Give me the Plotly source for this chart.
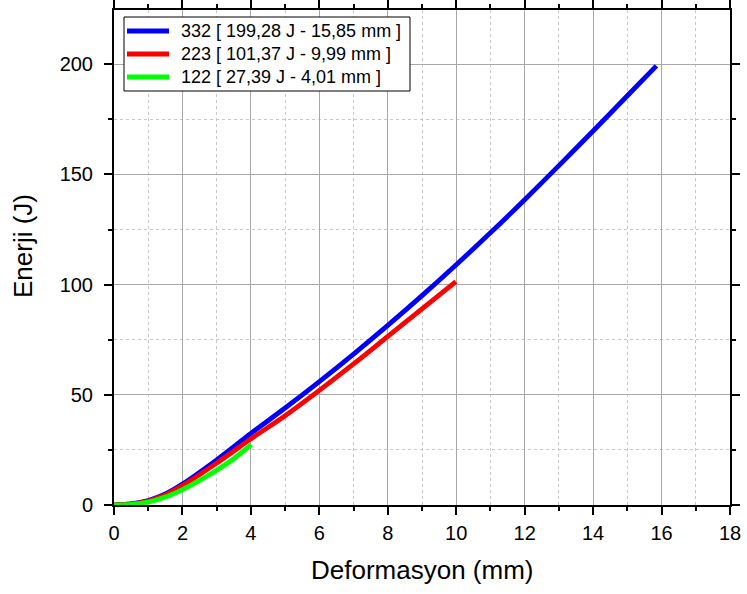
import plotly.graph_objects as go

# Energy vs. deformation curves for three specimens
x_332 = [0, 0.5, 1, 1.5, 2, 3, 4, 5, 6, 7, 8, 9, 10, 11, 12, 13, 14, 15, 15.85]
y_332 = [0, 0.5, 2, 5, 9.5, 20.5, 32.5, 44, 56, 68.5, 81.5, 95, 109, 123.5, 138.5, 154, 169.7, 185.7, 199.28]

x_223 = [0, 0.5, 1, 1.5, 2, 3, 4, 5, 6, 7, 8, 9, 9.99]
y_223 = [0, 0.5, 1.8, 4.6, 8.8, 19, 30, 40.5, 52, 64, 76.5, 89, 101.37]

x_122 = [0, 0.5, 1, 1.5, 2, 2.5, 3, 3.5, 4.01]
y_122 = [0, 0.3, 1.3, 3.6, 7, 11.2, 15.8, 21, 27.39]

names = [
    "332 [ 199,28 J - 15,85 mm ]",
    "223 [ 101,37 J - 9,99 mm ]",
    "122 [ 27,39 J - 4,01 mm ]",
]
colors = ["#0000ff", "#ff0000", "#00ff00"]

x_ticks = list(range(0, 19, 2))
y_ticks = [0, 50, 100, 150, 200]

FONT = "Liberation Sans, Arial, sans-serif"

# plot area in pixels
W, H = 747, 594
L, R, T, B = 114, 17, 10, 89
PW, PH = W - L - R, H - T - B


def px_x(p):
    return (p - L) / PW


def px_y(p):
    return (H - B - p) / PH


fig = go.Figure()
for xs, ys, name, col in zip([x_332, x_223, x_122], [y_332, y_223, y_122], names, colors):
    fig.add_trace(go.Scatter(x=xs, y=ys, mode="lines", name=name, showlegend=False,
                             line=dict(color=col, width=4.8, shape="spline", smoothing=0.8)))

axis_common = dict(
    showline=True, linecolor="black", linewidth=2, mirror="allticks",
    ticks="outside", ticklen=8, tickwidth=1.5, tickcolor="black",
    showgrid=True, gridcolor="#a8a8a8", gridwidth=1,
    zeroline=False, automargin=False,
    tickfont=dict(family=FONT, size=20, color="black"),
)

fig.update_xaxes(
    range=[0, 18], tickvals=x_ticks, ticklabelstandoff=1,
    minor=dict(dtick=1, showgrid=True, griddash="dot", gridcolor="#c8c8c8",
               ticks="outside", ticklen=4, tickcolor="black"),
    **axis_common,
)
fig.update_yaxes(
    range=[0, 224.6], tickvals=y_ticks, ticklabelstandoff=7,
    minor=dict(dtick=25, showgrid=True, griddash="dot", gridcolor="#c8c8c8",
               ticks="outside", ticklen=4, tickcolor="black"),
    **axis_common,
)

# axis titles
annotations = [
    dict(xref="paper", yref="paper", x=px_x(422), y=px_y(570), xanchor="center", yanchor="middle",
         text="Deformasyon (mm)", showarrow=False, font=dict(family=FONT, size=26, color="black")),
    dict(xref="paper", yref="paper", x=px_x(23), y=px_y(246), xanchor="center", yanchor="middle",
         text="Enerji (J)", textangle=-90, showarrow=False, font=dict(family=FONT, size=26, color="black")),
]

# legend box drawn with shapes and annotations
shapes = [dict(type="rect", xref="paper", yref="paper",
               x0=px_x(124), x1=px_x(410), y0=px_y(91), y1=px_y(17),
               line=dict(color="black", width=1), fillcolor="white", layer="above")]
row_y = [31, 54, 77]
for name, col, ry in zip(names, colors, row_y):
    shapes.append(dict(type="line", xref="paper", yref="paper",
                       x0=px_x(127), x1=px_x(169), y0=px_y(ry), y1=px_y(ry),
                       line=dict(color=col, width=4.8), layer="above"))
    annotations.append(dict(xref="paper", yref="paper", x=px_x(179), y=px_y(ry),
                            xanchor="left", yanchor="middle", text=name, showarrow=False,
                            font=dict(family=FONT, size=18, color="black")))

fig.update_layout(
    width=W, height=H,
    margin=dict(l=L, r=R, t=T, b=B),
    plot_bgcolor="white", paper_bgcolor="white",
    font=dict(family=FONT, color="black"),
    shapes=shapes, annotations=annotations,
    showlegend=False,
)

fig.write_html("out.html")
